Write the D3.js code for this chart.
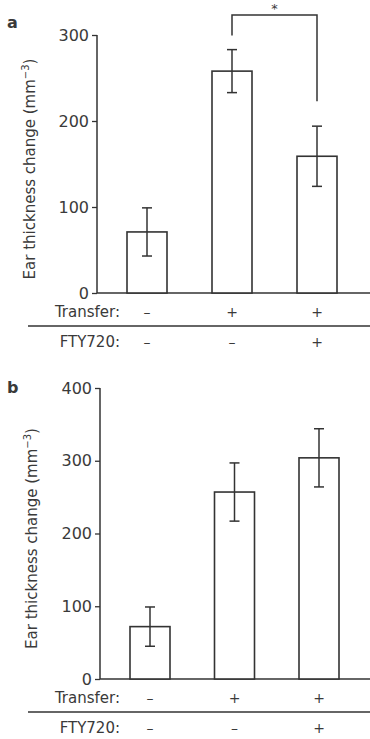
<!DOCTYPE html>
<html>
<title>Ear thickness</title>
<meta charset="UTF-8">
<script type="text/javascript" src="https://d3js.org/d3.v7.min.js"></script>
<style type="text/css">
	body {
		margin:0;
		background:#fff;
	}
	text {
		font-family: "DejaVu Sans", sans-serif;
		fill: #3a3a3a;
	}
	.tick text {
		font-size: 16px;
	}
</style>
<body>
	<svg id="viz" width="370" height="739"></svg>
</body>
<script type="text/javascript">

	var groups = ["g1", "g2", "g3"];
	var transferSigns = ["\u2013", "+", "+"];
	var ftySigns = ["\u2013", "\u2013", "+"];

	// panel a
	var meansA = [71, 258, 159];
	var errA = [28, 25, 35];
	var ticksA = [0, 100, 200, 300];

	// panel b
	var meansB = [72, 257, 304];
	var errB = [27, 40, 40];
	var ticksB = [0, 100, 200, 300, 400];

	var svg = d3.select("#viz");
	var ink = "#333";

	function panel(opt){
		var g = svg.append("g");

		var yScale = d3.scaleLinear()
			.domain([0, opt.max])
			.range([opt.y0, opt.y1]);

		var xScale = d3.scalePoint()
			.domain(groups)
			.range([opt.xa, opt.xb]);

		var yAxis = d3.axisLeft(yScale)
			.tickValues(opt.ticks)
			.tickSize(5)
			.tickPadding(3)
			.tickFormat(d3.format("d"));

		var ax = g.append("g")
			.attr("transform", "translate(" + opt.axisX + ",0)")
			.call(yAxis);
		ax.select(".domain").remove();
		ax.selectAll(".tick line").attr("stroke", ink).attr("stroke-width", 1.3);
		ax.selectAll(".tick text").attr("fill", "#3a3a3a");

		// axes lines
		g.append("line")
			.attr("x1", opt.axisX).attr("x2", opt.axisX)
			.attr("y1", yScale(opt.max)).attr("y2", yScale(0))
			.attr("stroke", ink).attr("stroke-width", 1.5);
		g.append("line")
			.attr("x1", opt.axisX).attr("x2", 370)
			.attr("y1", yScale(0)).attr("y2", yScale(0))
			.attr("stroke", ink).attr("stroke-width", 1.5);

		var bw = 40;
		g.selectAll("rect.bar")
			.data(opt.means)
			.enter().append("rect")
			.attr("class", "bar")
			.attr("x", function(d, i){ return xScale(groups[i]) - bw / 2; })
			.attr("y", function(d){ return yScale(d); })
			.attr("width", bw)
			.attr("height", function(d){ return yScale(0) - yScale(d); })
			.attr("fill", "#fff")
			.attr("stroke", ink)
			.attr("stroke-width", 1.6);

		var cap = 5;
		var eb = g.selectAll("g.err")
			.data(opt.means)
			.enter().append("g")
			.attr("class", "err");
		eb.append("line")
			.attr("x1", function(d, i){ return xScale(groups[i]); })
			.attr("x2", function(d, i){ return xScale(groups[i]); })
			.attr("y1", function(d, i){ return yScale(d + opt.err[i]); })
			.attr("y2", function(d, i){ return yScale(d - opt.err[i]); });
		eb.append("line")
			.attr("x1", function(d, i){ return xScale(groups[i]) - cap; })
			.attr("x2", function(d, i){ return xScale(groups[i]) + cap; })
			.attr("y1", function(d, i){ return yScale(d + opt.err[i]); })
			.attr("y2", function(d, i){ return yScale(d + opt.err[i]); });
		eb.append("line")
			.attr("x1", function(d, i){ return xScale(groups[i]) - cap; })
			.attr("x2", function(d, i){ return xScale(groups[i]) + cap; })
			.attr("y1", function(d, i){ return yScale(d - opt.err[i]); })
			.attr("y2", function(d, i){ return yScale(d - opt.err[i]); });
		eb.selectAll("line").attr("stroke", ink).attr("stroke-width", 1.5);

		// treatment rows
		var rowT = yScale(0) + 24;
		var rowF = yScale(0) + 54;
		g.append("text")
			.attr("x", 120).attr("y", rowT)
			.attr("text-anchor", "end")
			.style("font-size", "15px")
			.text("Transfer:");
		g.append("text")
			.attr("x", 120).attr("y", rowF)
			.attr("text-anchor", "end")
			.style("font-size", "15px")
			.text("FTY720:");
		g.selectAll("text.tr")
			.data(transferSigns)
			.enter().append("text")
			.attr("class", "tr")
			.attr("x", function(d, i){ return xScale(groups[i]); })
			.attr("y", rowT)
			.attr("text-anchor", "middle")
			.style("font-size", "14px")
			.text(function(d){ return d; });
		g.selectAll("text.fty")
			.data(ftySigns)
			.enter().append("text")
			.attr("class", "fty")
			.attr("x", function(d, i){ return xScale(groups[i]); })
			.attr("y", rowF)
			.attr("text-anchor", "middle")
			.style("font-size", "14px")
			.text(function(d){ return d; });
		g.append("line")
			.attr("x1", 28).attr("x2", 370)
			.attr("y1", yScale(0) + 33).attr("y2", yScale(0) + 33)
			.attr("stroke", ink).attr("stroke-width", 1.3);

		// y title
		var title = g.append("text")
			.attr("transform", "translate(" + opt.titleX + "," + ((opt.y0 + opt.y1) / 2 + 5) + ") rotate(-90)")
			.attr("text-anchor", "middle")
			.style("font-size", "15px");
		title.append("tspan").text("Ear thickness change (mm");
		title.append("tspan").attr("dy", -6).style("font-size", "10px").text("\u22123");
		title.append("tspan").attr("dy", 6).text(")");

		// panel letter
		g.append("text")
			.attr("x", opt.letterX).attr("y", opt.letterY)
			.style("font-size", "16px")
			.style("font-weight", "bold")
			.text(opt.letter);

		return {g: g, x: xScale, y: yScale};
	}

	var pa = panel({
		max: 300, ticks: ticksA, means: meansA, err: errA,
		y0: 293, y1: 35, xa: 147, xb: 317, axisX: 97,
		titleX: 35, letter: "a", letterX: 7, letterY: 28
	});

	var pb = panel({
		max: 400, ticks: ticksB, means: meansB, err: errB,
		y0: 679, y1: 388, xa: 150, xb: 319, axisX: 100,
		titleX: 37, letter: "b", letterX: 7, letterY: 393
	});

	// significance bracket in panel a
	var bx1 = pa.x("g2"), bx2 = pa.x("g3");
	var bTop = 15;
	var bracket = d3.path();
	bracket.moveTo(bx1, pa.y(meansA[1] + errA[1]) - 14);
	bracket.lineTo(bx1, bTop);
	bracket.lineTo(bx2, bTop);
	bracket.lineTo(bx2, pa.y(meansA[2] + errA[2]) - 25);
	pa.g.append("path")
		.attr("d", bracket.toString())
		.attr("fill", "none")
		.attr("stroke", ink)
		.attr("stroke-width", 1.5);
	pa.g.append("text")
		.attr("x", (bx1 + bx2) / 2)
		.attr("y", 13)
		.attr("text-anchor", "middle")
		.style("font-size", "13px")
		.text("*");

</script>
</html>
